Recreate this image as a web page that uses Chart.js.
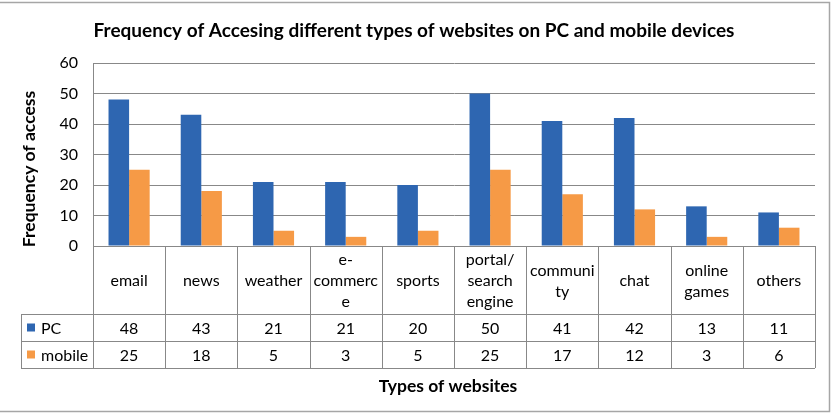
<!DOCTYPE html>
<html>
<head>
<meta charset="utf-8">
<script src="https://cdn.jsdelivr.net/npm/chart.js@4/dist/chart.umd.min.js"></script>
<style>
  html, body { margin: 0; padding: 0; background: #fff; }
  #wrap { width: 832px; height: 418px; position: relative; }
</style>
</head>
<body>
<div id="wrap"><canvas id="sitesChart" width="832" height="418"></canvas></div>
<script>
// categories, wrapped the way the data table shows them
const categories = [
    ['email'], ['news'], ['weather'], ['e-', 'commerc', 'e'], ['sports'],
    ['portal/', 'search', 'engine'], ['communi', 'ty'], ['chat'], ['online', 'games'], ['others']
];
const pcValues = [48, 43, 21, 21, 20, 50, 41, 42, 13, 11];
const mobileValues = [25, 18, 5, 3, 5, 25, 17, 12, 3, 6];
const yTicks = [0, 10, 20, 30, 40, 50, 60];

const chartTitle = 'Frequency of Accesing different types of websites on PC and mobile devices';
const yTitle = 'Frequency of access';
const xTitle = 'Types of websites';

const PC_COLOR = '#2E66B1';
const MOBILE_COLOR = '#F69A46';
const LINE_COLOR = '#888888';
const FONT = 'Lato, "Open Sans", sans-serif';

// desenha titulo, tabela de dados e moldura
const tablePlugin = {
    id: 'dataTable',
    afterDraw(chart) {
        const c = chart.ctx;
        const area = chart.chartArea;
        const x = chart.scales.x;
        const n = categories.length;
        const colW = (area.right - area.left) / n;
        const top = area.bottom;
        const catBottom = top + 68;
        const row1 = catBottom + 27;
        const row2 = row1 + 27;
        const legendLeft = 21;

        c.save();
        c.strokeStyle = LINE_COLOR;
        c.lineWidth = 1;
        c.beginPath();
        // horizontal lines
        c.moveTo(area.left, top + 0.5); c.lineTo(area.right, top + 0.5);
        [catBottom, row1, row2].forEach(yy => {
            c.moveTo(legendLeft, yy + 0.5); c.lineTo(area.right, yy + 0.5);
        });
        // vertical lines
        for (let i = 0; i <= n; i++) {
            const xx = Math.round(area.left + i * colW) + 0.5;
            c.moveTo(xx, top); c.lineTo(xx, row2);
        }
        c.moveTo(legendLeft + 0.5, catBottom); c.lineTo(legendLeft + 0.5, row2);
        c.stroke();

        c.fillStyle = '#000';
        c.textAlign = 'center';
        c.textBaseline = 'middle';
        c.font = '16px ' + FONT;
        const lineH = 21;
        const catMid = (top + catBottom) / 2 + 1;
        categories.forEach((lines, i) => {
            const cx = x.getPixelForValue(i);
            const startY = catMid - (lines.length - 1) * lineH / 2;
            lines.forEach((t, j) => c.fillText(t, cx, startY + j * lineH));
            c.fillText(String(pcValues[i]), cx, (catBottom + row1) / 2 + 1);
            c.fillText(String(mobileValues[i]), cx, (row1 + row2) / 2 + 1);
        });

        // legend keys in the table
        c.textAlign = 'left';
        c.fillStyle = PC_COLOR;
        c.fillRect(27, (catBottom + row1) / 2 - 4, 8, 8);
        c.fillStyle = MOBILE_COLOR;
        c.fillRect(27, (row1 + row2) / 2 - 4, 8, 8);
        c.fillStyle = '#000';
        c.fillText(chart.data.datasets[0].label, 41, (catBottom + row1) / 2 + 1);
        c.fillText(chart.data.datasets[1].label, 41, (row1 + row2) / 2 + 1);

        // titles
        c.textAlign = 'center';
        c.font = 'bold 19px ' + FONT;
        c.fillText(chartTitle, 414, 31);
        c.font = 'bold 17.5px ' + FONT;
        c.fillText(xTitle, 448, 386);
        c.save();
        c.translate(29, 169);
        c.rotate(-Math.PI / 2);
        c.fillText(yTitle, 0, 0);
        c.restore();

        // moldura externa
        c.strokeStyle = '#a6a6a6';
        c.lineWidth = 1.5;
        c.beginPath();
        c.moveTo(0, 2.5); c.lineTo(829.5, 2.5); c.lineTo(829.5, 411.5); c.lineTo(0, 411.5);
        c.stroke();
        c.restore();
    }
};

const ctx = document.getElementById('sitesChart').getContext('2d');

const sitesChart = new Chart(ctx, {
    type: 'bar',
    data: {
        labels: categories,
        datasets: [
            {
                label: 'PC',
                data: pcValues,
                backgroundColor: PC_COLOR,
                categoryPercentage: 0.57,
                barPercentage: 1.0
            },
            {
                label: 'mobile',
                data: mobileValues,
                backgroundColor: MOBILE_COLOR,
                categoryPercentage: 0.57,
                barPercentage: 1.0
            }
        ]
    },
    options: {
        responsive: false,
        animation: false,
        layout: {
            padding: { top: 63, right: 17, bottom: 172, left: 0 }
        },
        plugins: {
            legend: { display: false },
            title: { display: false },
            tooltip: { enabled: false }
        },
        scales: {
            x: {
                display: false
            },
            y: {
                min: 0,
                max: 60,
                afterBuildTicks: (scale) => {
                    scale.ticks = yTicks.map(v => ({ value: v }));
                },
                afterFit: (scale) => { scale.width = 93; },
                border: { display: true, color: LINE_COLOR },
                grid: { color: LINE_COLOR, drawTicks: false },
                ticks: {
                    color: '#000',
                    padding: 15,
                    font: { family: FONT, size: 16 }
                }
            }
        }
    },
    plugins: [tablePlugin]
});
</script>
</body>
</html>
